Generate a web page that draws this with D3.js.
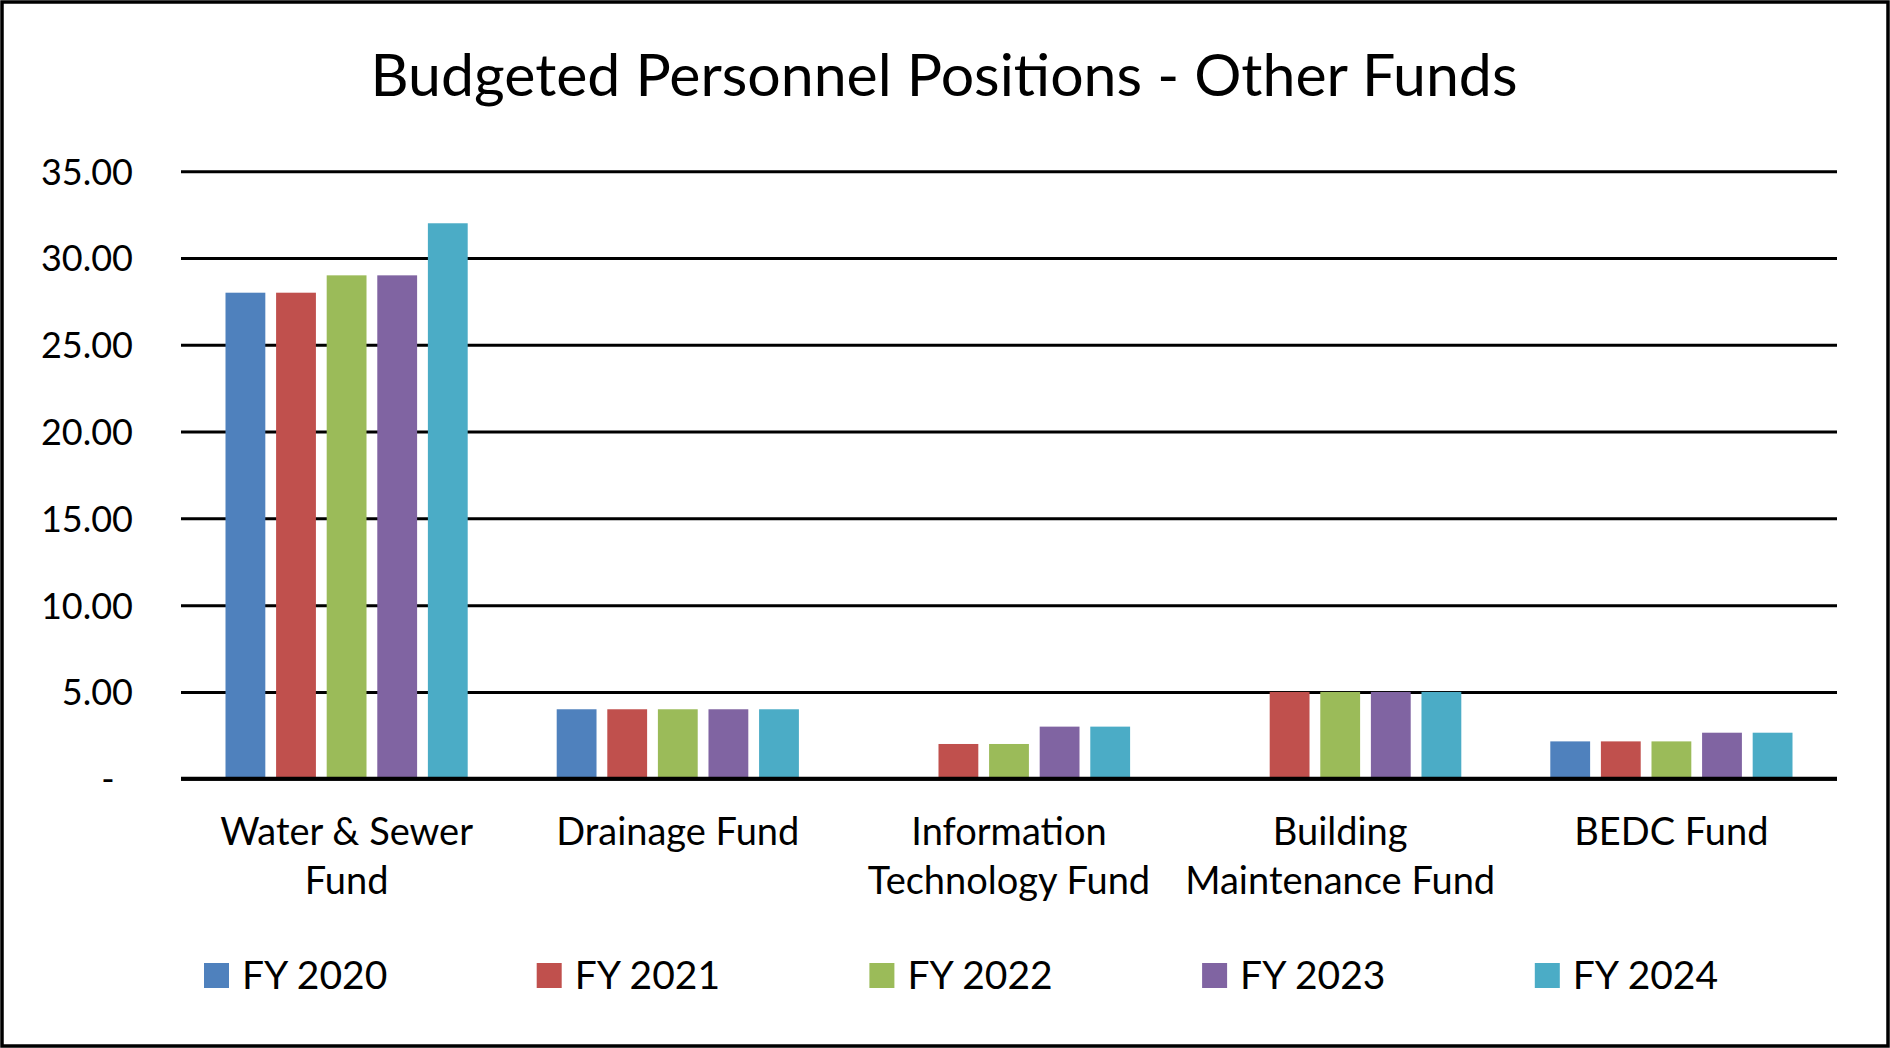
<!DOCTYPE html>
<html lang="en">
<head>
<meta charset="utf-8">
<title>Budgeted Personnel Positions - Other Funds</title>
<script src="https://cdn.jsdelivr.net/npm/d3@7"></script>
<style>
  body { margin: 0; background: #ffffff; overflow: hidden; }
  text { font-family: "Lato", "Liberation Sans", sans-serif; fill: #000000; }
</style>
</head>
<body>
<div id="chart"></div>
<script>
// chart values
var categories = ["Water & Sewer Fund", "Drainage Fund", "Information Technology Fund", "Building Maintenance Fund", "BEDC Fund"];
var categoryLines = [["Water & Sewer", "Fund"], ["Drainage Fund"], ["Information", "Technology Fund"], ["Building", "Maintenance Fund"], ["BEDC Fund"]];
var series = ["FY 2020", "FY 2021", "FY 2022", "FY 2023", "FY 2024"];
var fy2020 = [28, 4, 0, 0, 2.15];
var fy2021 = [28, 4, 2, 5, 2.15];
var fy2022 = [29, 4, 2, 5, 2.15];
var fy2023 = [29, 4, 3, 5, 2.65];
var fy2024 = [32, 4, 3, 5, 2.65];
var yTicks = [0, 5, 10, 15, 20, 25, 30, 35];
var colors = ["#4F81BD", "#C0504D", "#9BBB59", "#8064A2", "#4BACC6"];

var seriesValues = [fy2020, fy2021, fy2022, fy2023, fy2024];

var W = 1890, H = 1048;
var svg = d3.select("#chart").append("svg")
    .attr("width", W)
    .attr("height", H);

svg.append("rect")
    .attr("width", W).attr("height", H)
    .attr("fill", "#ffffff");

// outer frame
svg.append("rect")
    .attr("x", 2).attr("y", 2)
    .attr("width", W - 4).attr("height", H - 4)
    .attr("fill", "none")
    .attr("stroke", "#000000")
    .attr("stroke-width", 3.5);

var plotL = 181, plotR = 1837, plotT = 171.2, plotB = 778.7;

var x = d3.scaleBand().domain(categories).range([plotL, plotR]);
var groupW = 242.2;
var xs = d3.scaleBand().domain(series).range([0, groupW]).paddingInner(0.213);
var y = d3.scaleLinear().domain([0, 35]).range([plotB, plotT]);

// title
svg.append("text")
    .attr("x", 944)
    .attr("y", 96)
    .attr("text-anchor", "middle")
    .style("font-size", "59px")
    .text("Budgeted Personnel Positions - Other Funds");

// gridlines + y labels
var yAxis = d3.axisLeft(y)
    .tickValues(yTicks)
    .tickSize(-(plotR - plotL))
    .tickPadding(48)
    .tickFormat(function(d) { return d === 0 ? "-" : d3.format(".2f")(d); });

var gy = svg.append("g")
    .attr("transform", "translate(" + plotL + ",0)")
    .call(yAxis);
gy.select(".domain").remove();
gy.selectAll(".tick line")
    .attr("stroke", "#000000")
    .attr("stroke-width", 3);
gy.selectAll(".tick text")
    .style("font-size", "36px")
    .style("font-family", "Lato, sans-serif")
    .attr("fill", "#000000")
    .attr("dy", "0.36em");
gy.selectAll(".tick text")
    .filter(function(d) { return d === 0; })
    .attr("text-anchor", "middle")
    .attr("x", 108 - plotL);

// bars (blank cells are not drawn)
var groups = svg.selectAll(".grp")
    .data(series)
    .enter().append("g")
    .attr("class", "grp")
    .attr("fill", function(d, i) { return colors[i]; });

groups.each(function(s, si) {
  var cells = seriesValues[si]
    .map(function(v, ci) { return { cat: categories[ci], v: v }; })
    .filter(function(d) { return d.v > 0; });
  d3.select(this).selectAll("rect")
    .data(cells)
    .enter().append("rect")
    .attr("x", function(d) { return x(d.cat) + (x.bandwidth() - groupW) / 2 + xs(s); })
    .attr("y", function(d) { return y(d.v); })
    .attr("width", xs.bandwidth())
    .attr("height", function(d) { return y(0) - y(d.v); });
});

// baseline
svg.append("line")
    .attr("x1", plotL).attr("x2", plotR)
    .attr("y1", plotB).attr("y2", plotB)
    .attr("stroke", "#000000")
    .attr("stroke-width", 4);

// category labels
var cl = svg.selectAll(".cat")
    .data(categories)
    .enter().append("text")
    .attr("class", "cat")
    .attr("text-anchor", "middle")
    .style("font-size", "38px");
cl.selectAll("tspan")
    .data(function(d, i) { return categoryLines[i]; })
    .enter().append("tspan")
    .attr("x", function() { var c = d3.select(this.parentNode).datum(); return x(c) + x.bandwidth() / 2; })
    .attr("y", function(d, i) { return 845 + i * 49; })
    .text(function(d) { return d; });

// legend
var leg = svg.selectAll(".leg")
    .data(series)
    .enter().append("g")
    .attr("class", "leg")
    .attr("transform", function(d, i) { return "translate(" + (204 + i * 332.7) + ",963)"; });
leg.append("rect")
    .attr("width", 25).attr("height", 25)
    .attr("fill", function(d, i) { return colors[i]; });
leg.append("text")
    .attr("x", 38)
    .attr("y", 26)
    .style("font-size", "39px")
    .text(function(d) { return d; });
</script>
</body>
</html>
